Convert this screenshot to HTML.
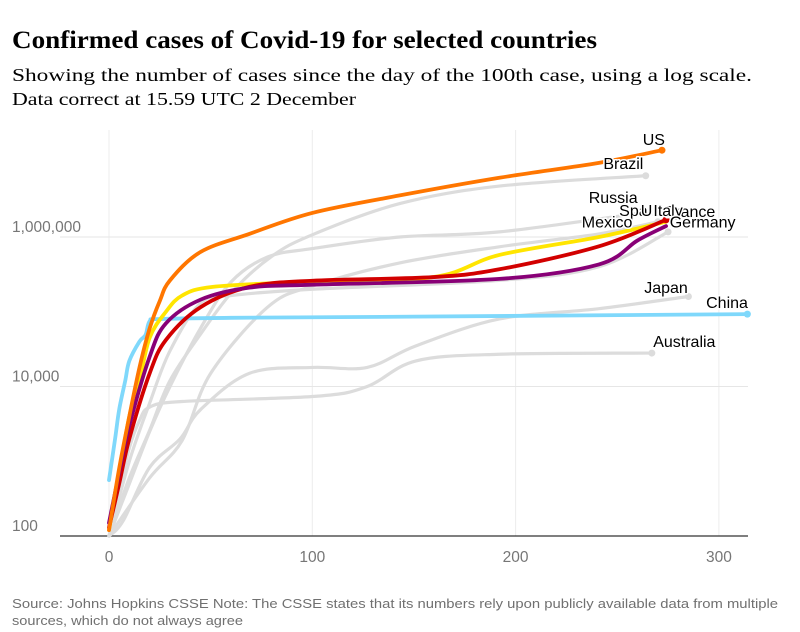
<!DOCTYPE html>
<html><head><meta charset="utf-8"><style>
html,body{margin:0;padding:0;background:#fff;}
svg{display:block;}
.lbl{font-family:"Liberation Sans",sans-serif;font-size:16px;fill:#000;stroke:#fff;stroke-width:3px;paint-order:stroke;stroke-linejoin:round;}
.tick{font-family:"Liberation Sans",sans-serif;font-size:15.5px;fill:#767676;}
</style></head><body>
<svg id="chart" width="800" height="632" viewBox="0 0 800 632">
<text x="12" y="48" font-family="Liberation Serif,serif" font-weight="bold" font-size="25" textLength="585" lengthAdjust="spacingAndGlyphs">Confirmed cases of Covid-19 for selected countries</text>
<text x="12" y="81" font-family="Liberation Serif,serif" font-size="18" textLength="740" lengthAdjust="spacingAndGlyphs">Showing the number of cases since the day of the 100th case, using a log scale.</text>
<text x="12" y="105" font-family="Liberation Serif,serif" font-size="18" textLength="344" lengthAdjust="spacingAndGlyphs">Data correct at 15.59 UTC 2 December</text>
<g id="grid"></g>
<g id="lines"></g>
<g id="labels"></g>
<text x="12" y="608" font-family="Liberation Sans,sans-serif" font-size="13" fill="#707070" textLength="766" lengthAdjust="spacingAndGlyphs">Source: Johns Hopkins CSSE Note: The CSSE states that its numbers rely upon publicly available data from multiple</text>
<text x="12" y="625" font-family="Liberation Sans,sans-serif" font-size="13" fill="#707070" textLength="231" lengthAdjust="spacingAndGlyphs">sources, which do not always agree</text>
</svg>
<script>
const xTicks = [0, 100, 200, 300];
const yTicks = [100, 10000, 1000000];
const yTickLabels = ["100", "10,000", "1,000,000"];

const grayDays1 = [0,10,20,30,45,61,80,100,143,192,264];
const brazilCases = [100,600,2600,12000,50000,190000,550000,1070000,2800000,4800000,6600000];
const russiaDays = [0,10,20,30,45,60,78,100,143,192,262];
const russiaCases = [100,500,2500,10000,60000,250000,540000,700000,1000000,1170000,2100000];
const franceDays = [0,10,20,30,45,61,100,192,241,275];
const franceCases = [100,1000,6000,30000,130000,166000,200000,263000,400000,1170000];
const spainDays = [0,20,36,50,78,100,143,192,241,270];
const spainCases = [100,600,1900,15000,115000,220000,450000,740000,1100000,1600000];
const japanDays = [0,7,20,35,45,69,100,127,151,192,241,285];
const japanCases = [100,160,830,2000,4900,15000,18000,18000,35000,80000,110000,160000];
const australiaDays = [0,5,10,15,20,36,102,127,151,192,267];
const australiaCases = [100,400,1500,3500,5300,6300,7400,10000,22000,27000,28000];
const usDays = [0,5,10,15,20,25,30,45,69,100,143,192,241,272];
const usCases = [120,800,4000,18000,60000,140000,263000,630000,1100000,2100000,3600000,6200000,9800000,14500000];
const chinaDays = [0,3,5,8,10,15,18,20,25,60,150,314];
const chinaCases = [560,2000,4900,12000,22000,40000,49000,75000,80000,83000,86000,93000];
const yellowDays = [0,5,10,15,20,28,36,51,94,159,192,241,274];
const yellowCases = [120,700,4000,12000,45000,100000,165000,215000,250000,290000,575000,1000000,1600000];
const redDays = [0,5,10,20,28,45,69,100,159,192,241,274];
const redCases = [130,500,2000,15000,42000,115000,215000,260000,290000,370000,750000,1700000];
const purpleDays = [0,5,10,20,28,45,69,100,192,241,260,274];
const purpleCases = [150,700,3000,25000,70000,145000,210000,230000,275000,430000,900000,1400000];

const series = [
 {name:"brazil", d:grayDays1, v:brazilCases, c:"#dcdcdc", dot:true},
 {name:"russia", d:russiaDays, v:russiaCases, c:"#dcdcdc", dot:true},
 {name:"france", d:franceDays, v:franceCases, c:"#dcdcdc", dot:true},
 {name:"spain", d:spainDays, v:spainCases, c:"#dcdcdc", dot:true},
 {name:"japan", d:japanDays, v:japanCases, c:"#dcdcdc", dot:true},
 {name:"australia", d:australiaDays, v:australiaCases, c:"#dcdcdc", dot:true},
 {name:"china", d:chinaDays, v:chinaCases, c:"#7fd8fb", dot:true},
 {name:"mexico", d:yellowDays, v:yellowCases, c:"#ffe500", dot:false},
 {name:"uk", d:redDays, v:redCases, c:"#d20000", dot:true},
 {name:"germany", d:purpleDays, v:purpleCases, c:"#880076", dot:false},
 {name:"us", d:usDays, v:usCases, c:"#ff7600", dot:true}
];
const labelNames = ["US","Brazil","Russia","France","Spain","UK","Italy","Mexico","Germany","Japan","China","Australia"];
const labelDays = [268,253,248,286,261,267,275,245,292,274,304,283];
const labelCases = [17000000,8100000,2850000,1850000,1900000,1900000,1900000,1350000,1350000,178000,112000,34000];

const NS="http://www.w3.org/2000/svg";
const x = d => 109 + d*2.033;
const y = v => 536 - (Math.log10(v)-2)*74.75;
function mk(tag, attrs, parent){const e=document.createElementNS(NS,tag);for(const k in attrs)e.setAttribute(k,attrs[k]);parent.appendChild(e);return e;}

const grid=document.getElementById('grid');
xTicks.forEach(t=>{
  const l=mk('line',{x1:x(t),x2:x(t),y1:130,y2:536,stroke:'#ececec','stroke-width':1},grid);
  
  
  const tx=mk('text',{x:x(t),y:562,'text-anchor':'middle',class:'tick'},grid);
  tx.textContent=t;
  
  
});
yTicks.forEach((t,i)=>{
  if(i>0){
    const l=mk('line',{x1:60,x2:748,y1:y(t),y2:y(t),stroke:'#e6e6e6','stroke-width':1},grid);
    
    
  }
  const tx=mk('text',{x:12,y:y(t)-5,class:'tick'},grid);
  tx.textContent=yTickLabels[i];
  
  
});
const ax=mk('line',{x1:60,x2:748,y1:536,y2:536,stroke:'#333','stroke-width':1.2},grid);



const lines=document.getElementById('lines');
series.forEach(s=>{
  const pts=s.d.map((d,i)=>[x(d),y(s.v[i])]);
  let p='M'+pts[0][0]+','+pts[0][1];
  for(let i=1;i<pts.length;i++){
    const p0=pts[Math.max(0,i-2)],p1=pts[i-1],p2=pts[i],p3=pts[Math.min(pts.length-1,i+1)];
    const c1x=p1[0]+(p2[0]-p0[0])/6,c1y=p1[1]+(p2[1]-p0[1])/6;
    const c2x=p2[0]-(p3[0]-p1[0])/6,c2y=p2[1]-(p3[1]-p1[1])/6;
    p+=` C${c1x},${c1y} ${c2x},${c2y} ${p2[0]},${p2[1]}`;
  }
  const path=mk('path',{d:p,fill:'none',stroke:s.c,'stroke-width':s.c==='#dcdcdc'?3.2:3.8,'stroke-linejoin':'round','stroke-linecap':'round'},lines);
  
  
  if(s.dot){
    const last=pts[pts.length-1];
    const c=mk('circle',{cx:last[0],cy:last[1],r:3.5,fill:s.c},lines);
    
    
  }
});

const labels=document.getElementById('labels');
labelNames.forEach((n,i)=>{
  const t=mk('text',{x:x(labelDays[i]),y:y(labelCases[i]),'text-anchor':'middle',class:'lbl'},labels);
  t.textContent=n;
  
  
});
</script>
</body></html>
